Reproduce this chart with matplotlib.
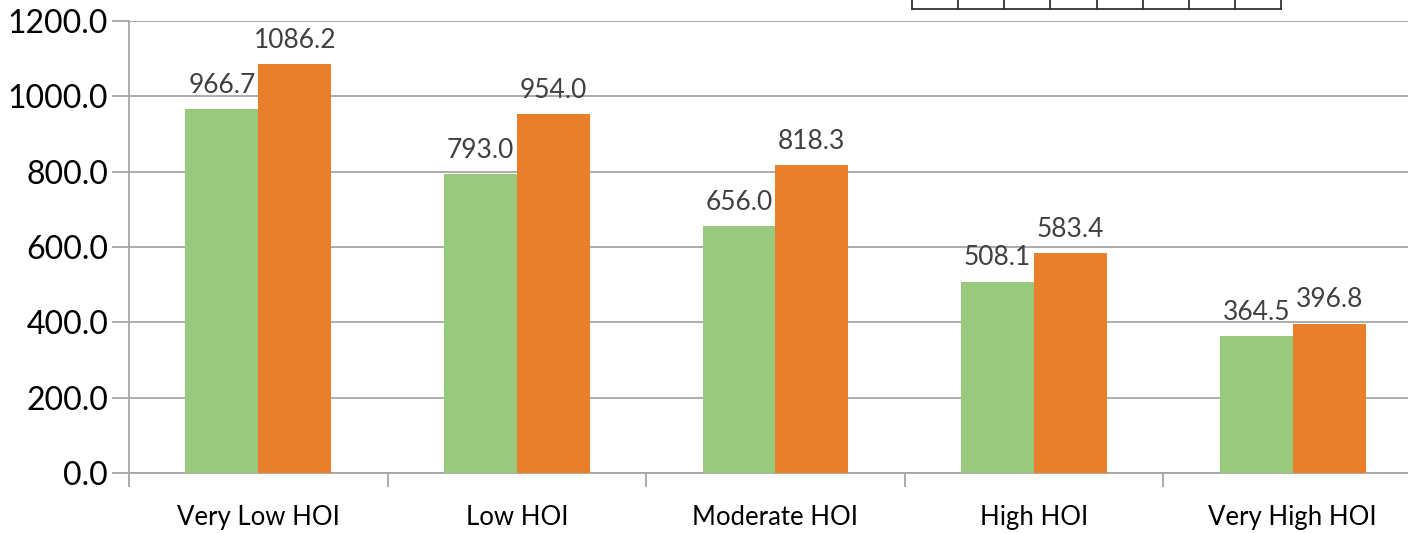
import numpy as np
import matplotlib.pyplot as plt
from matplotlib.lines import Line2D

# Data
categories = ['Very Low HOI', 'Low HOI', 'Moderate HOI', 'High HOI', 'Very High HOI']
series_a = [966.7, 793.0, 656.0, 508.1, 364.5]
series_b = [1086.2, 954.0, 818.3, 583.4, 396.8]

green = '#98C97C'
orange = '#EA7F2B'

plt.rcParams['font.family'] = ['Lato', 'DejaVu Sans']

fig = plt.figure(figsize=(14.08, 5.33), dpi=100)
ax = fig.add_axes([0.0916, 0.1126, 0.9183, 0.848])

x = np.arange(len(categories))
w = 0.282
bars_a = ax.bar(x - w / 2, series_a, w, color=green, zorder=3)
bars_b = ax.bar(x + w / 2, series_b, w, color=orange, zorder=3)

for bars, vals in [(bars_a, series_a), (bars_b, series_b)]:
    for b, v in zip(bars, vals):
        ax.annotate(f'{v:.1f}', (b.get_x() + b.get_width() / 2, v),
                    xytext=(0, 8), textcoords='offset points',
                    ha='center', va='bottom', fontsize=19, color='#404040')

ax.set_xlim(-0.5, len(categories) - 0.5)
ax.set_ylim(0, 1200)
ax.set_yticks(np.arange(0, 1201, 200))
ax.set_yticklabels([f'{v:.1f}' for v in np.arange(0, 1201, 200)], fontsize=23)
ax.yaxis.grid(True, color='#a6a6a6', linewidth=1.3, zorder=0)

# category labels centred, ticks on category boundaries
ax.set_xticks(x)
ax.set_xticklabels(categories, fontsize=18.5)
ax.tick_params(axis='x', which='major', length=0, pad=23)
ax.set_xticks(np.arange(-0.5, len(categories)), minor=True)
ax.tick_params(axis='x', which='minor', length=10, width=1.3, color='#a6a6a6')
ax.tick_params(axis='y', length=12, width=1.3, color='#a6a6a6', pad=3)

for s in ['top', 'right']:
    ax.spines[s].set_visible(False)
for s in ['left', 'bottom']:
    ax.spines[s].set_color('#a6a6a6')
    ax.spines[s].set_linewidth(1.3)

# clipped box fragment at top right
y_bot = 1 - 9 / 533
x_edges = np.linspace(912, 1281, 9) / 1408
fig.add_artist(Line2D([x_edges[0], x_edges[-1]], [y_bot, y_bot], color='#333333', lw=1.3))
for xe in x_edges:
    fig.add_artist(Line2D([xe, xe], [y_bot, 1.02], color='#333333', lw=1.3))

fig.savefig('out.png', dpi=100)
